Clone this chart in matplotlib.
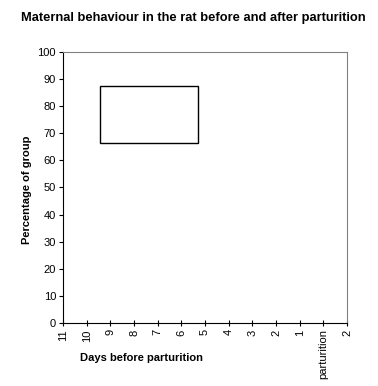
import matplotlib.pyplot as plt
from matplotlib.patches import Rectangle

plt.rcParams['font.family'] = ['Liberation Sans', 'DejaVu Sans']

# chart content
title = "Maternal behaviour in the rat before and after parturition"
x_labels = ["11", "10", "9", "8", "7", "6", "5", "4", "3", "2", "1", "parturition", "2"]
y_ticks = [0, 10, 20, 30, 40, 50, 60, 70, 80, 90, 100]
# empty legend-like box (category index, percentage)
box_x = [1.56, 5.70]
box_y = [66.4, 87.5]

fig = plt.figure(figsize=(3.78, 3.86), dpi=100)
ax = fig.add_axes([63 / 378, 1 - 323 / 386, (347 - 63) / 378, (323 - 52) / 386])

ax.set_xlim(0, len(x_labels) - 1)
ax.set_ylim(0, 100)
ax.set_xticks(range(len(x_labels)))
ax.set_xticklabels(x_labels, rotation=90, fontsize=8)
ax.set_yticks(y_ticks)
ax.set_yticklabels([str(v) for v in y_ticks], fontsize=8)

ax.tick_params(axis='y', direction='out', length=3, width=0.8, pad=2)
ax.tick_params(axis='x', direction='inout', length=5, width=0.8, pad=2)

for side in ['top', 'right']:
    ax.spines[side].set_color('#808080')
    ax.spines[side].set_linewidth(0.8)
for side in ['left', 'bottom']:
    ax.spines[side].set_color('black')
    ax.spines[side].set_linewidth(0.8)

ax.add_patch(Rectangle((box_x[0], box_y[0]), box_x[1] - box_x[0], box_y[1] - box_y[0],
                       fill=False, edgecolor='black', linewidth=1.0))

fig.text(0.512, 0.953, title, ha='center', va='center', fontsize=9.3, fontweight='bold')
fig.text(142 / 378, 1 - 358 / 386, "Days before parturition", ha='center', va='center',
         fontsize=8, fontweight='bold')
fig.text(27 / 378, 1 - 190 / 386, "Percentage of group", ha='center', va='center',
         rotation=90, fontsize=8, fontweight='bold')

fig.savefig('out.png', dpi=100)
